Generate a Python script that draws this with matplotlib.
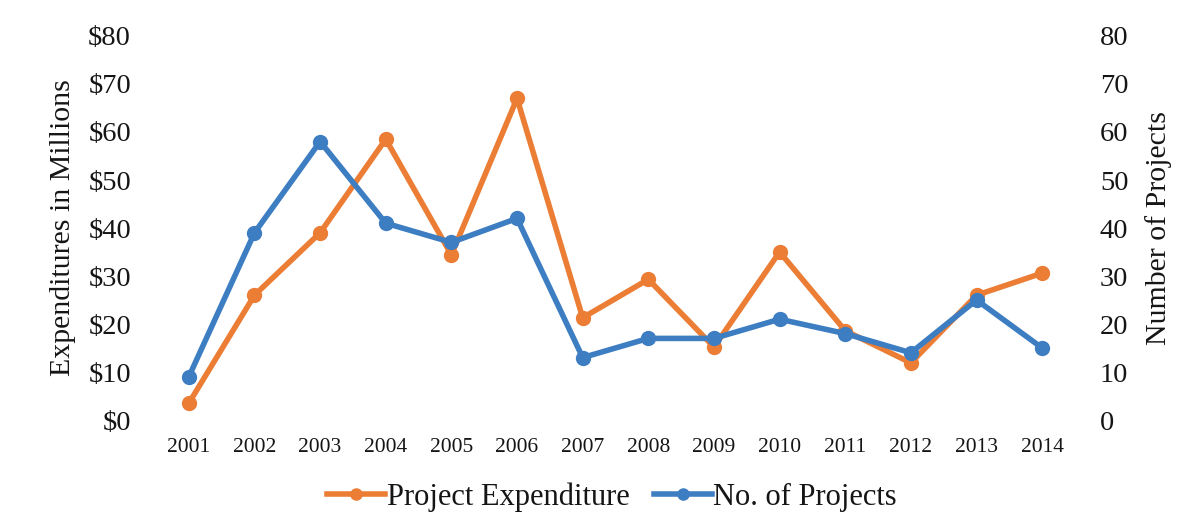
import numpy as np
import matplotlib.pyplot as plt

years = ["2001", "2002", "2003", "2004", "2005", "2006", "2007",
         "2008", "2009", "2010", "2011", "2012", "2013", "2014"]
expenditure = [3.5, 26, 39, 58.5, 34.4, 67, 21.3, 29.3, 15.2, 35, 18.6, 11.9, 26, 30.6]
num_projects = [9, 39, 58, 41, 37, 42, 13, 17, 17, 21, 18, 14, 25, 15]
left_ticks = [0, 10, 20, 30, 40, 50, 60, 70, 80]
right_ticks = [0, 10, 20, 30, 40, 50, 60, 70, 80]

orange = "#EB7D35"
blue = "#3D7DC2"
ink = "#151515"

plt.rcParams["font.family"] = ["Liberation Serif", "DejaVu Serif"]

fig = plt.figure(figsize=(11.95, 5.27), dpi=100)
ax = fig.add_axes([156 / 1195, 1 - 420 / 527, 919 / 1195, 384 / 527])
ax2 = ax.twinx()

xs = np.arange(len(years))
ax.plot(xs, expenditure, color=orange, lw=4, marker="o", ms=10,
        label="Project Expenditure", zorder=3)
ax2.plot(xs, num_projects, color=blue, lw=4, marker="o", ms=10,
         label="No. of Projects", zorder=3)

ax.set_xlim(-0.5, len(years) - 0.5)
ax.set_ylim(0, 80)
ax2.set_ylim(0, 80)
ax.set_yticks(left_ticks)
ax.set_yticklabels([f"${t}" for t in left_ticks], fontsize=20.5, color=ink)
ax2.set_yticks(right_ticks)
ax2.set_yticklabels([str(t) for t in right_ticks], fontsize=20.5, color=ink)
ax.set_xticks(xs)
ax.set_xticklabels(years, fontsize=15.5, color=ink)

for a in (ax, ax2):
    for s in a.spines.values():
        s.set_visible(False)
    a.tick_params(length=0)
ax.tick_params(axis="y", pad=18)
ax2.tick_params(axis="y", pad=18)
ax.tick_params(axis="x", pad=13)

ax.set_ylabel("Expenditures in Millions", fontsize=21.5, labelpad=9, color=ink)
ax2.set_ylabel("Number of Projects", fontsize=21.5, labelpad=12, color=ink)

h1, l1 = ax.get_legend_handles_labels()
h2, l2 = ax2.get_legend_handles_labels()
leg = fig.legend(h1 + h2, l1 + l2, loc="center", ncol=2, frameon=False,
                 fontsize=22, bbox_to_anchor=(612 / 1195, 1 - 497 / 527),
                 handlelength=1.9, handletextpad=0.05, columnspacing=0.8,
                 markerscale=0.8)
for t in leg.get_texts():
    t.set_color(ink)

fig.savefig("out.png", dpi=100)
